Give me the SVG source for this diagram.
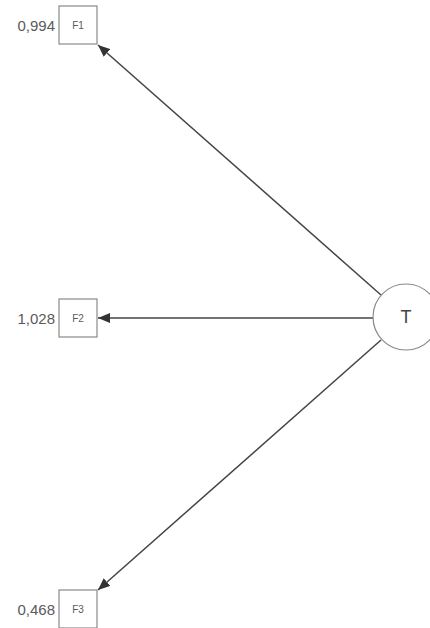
<svg xmlns="http://www.w3.org/2000/svg" width="430" height="628" viewBox="0 0 430 628">
<style>
.box{fill:#fff;stroke:#8a8a8a;stroke-width:1.2}
.circ{fill:#fff;stroke:#8a8a8a;stroke-width:1.2}
.val{font-family:"Liberation Sans",Arial,sans-serif;font-size:15px;fill:#5a5a5a;text-anchor:end}
.lab{font-family:"Liberation Sans",Arial,sans-serif;font-size:10px;fill:#5a5a5a;text-anchor:middle}
.tl{font-family:"Liberation Sans",Arial,sans-serif;font-size:18px;fill:#444;text-anchor:middle}
.edge{stroke:#444;stroke-width:1.5;fill:none;marker-end:url(#arr)}
</style>
<defs>
<marker id="arr" viewBox="0 0 12 10" refX="12" refY="5" markerWidth="12" markerHeight="10" markerUnits="userSpaceOnUse" orient="auto">
<path d="M0,0 L12,5 L0,10 Z" fill="#333"/>
</marker>
</defs>
<g id="connectors">
<line class="edge" x1="381" y1="295" x2="98" y2="45"/>
<line class="edge" x1="373" y1="318" x2="98" y2="318"/>
<line class="edge" x1="381" y1="340" x2="98" y2="590"/>
</g>
<g id="F1">
<rect class="box" x="59" y="6" width="38" height="38"/>
<text class="lab" x="78" y="29">F1</text>
<text class="val" x="55" y="31">0,994</text>
</g>
<g id="F2">
<rect class="box" x="59" y="299" width="38" height="38"/>
<text class="lab" x="78" y="322">F2</text>
<text class="val" x="55" y="324">1,028</text>
</g>
<g id="F3">
<rect class="box" x="59" y="590" width="38" height="38"/>
<text class="lab" x="78" y="613">F3</text>
<text class="val" x="55" y="615">0,468</text>
</g>
<g id="T">
<circle class="circ" cx="406" cy="317" r="33"/>
<text class="tl" x="406" y="323">T</text>
</g>
</svg>
